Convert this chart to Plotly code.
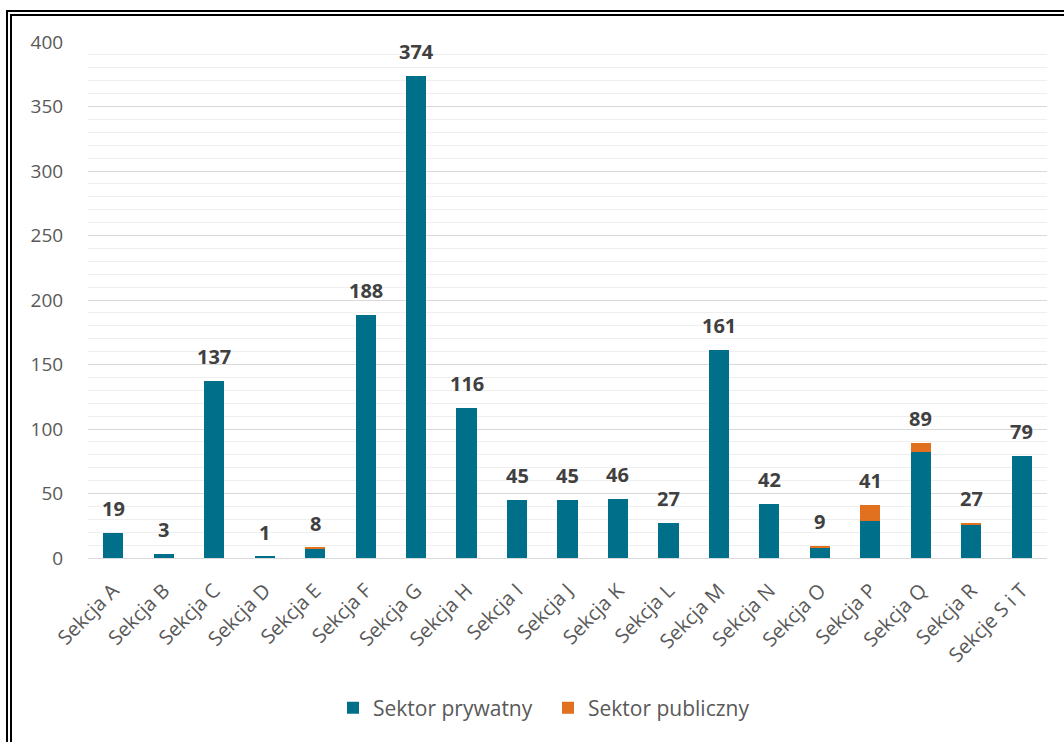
import plotly.graph_objects as go

categories = ["Sekcja A", "Sekcja B", "Sekcja C", "Sekcja D", "Sekcja E", "Sekcja F",
              "Sekcja G", "Sekcja H", "Sekcja I", "Sekcja J", "Sekcja K", "Sekcja L",
              "Sekcja M", "Sekcja N", "Sekcja O", "Sekcja P", "Sekcja Q", "Sekcja R",
              "Sekcje S i T"]
private = [19, 3, 137, 1, 7, 188, 374, 116, 45, 45, 46, 27, 161, 42, 8, 29, 82, 26, 79]
public = [0, 0, 0, 0, 1, 0, 0, 0, 0, 0, 0, 0, 0, 0, 1, 12, 7, 1, 0]
totals = [19, 3, 137, 1, 8, 188, 374, 116, 45, 45, 46, 27, 161, 42, 9, 41, 89, 27, 79]

BLUE = "#00708A"
ORANGE = "#E1711E"
FONT = "Open Sans"

fig = go.Figure()
fig.add_trace(go.Bar(x=categories, y=private, name="Sektor prywatny",
                     marker=dict(color=BLUE, line=dict(width=0))))
fig.add_trace(go.Bar(x=categories, y=public, name="Sektor publiczny",
                     marker=dict(color=ORANGE, line=dict(width=0))))

annotations = []
for c, v in zip(categories, totals):
    annotations.append(dict(x=c, y=v, xref="x", yref="y", text=str(v), showarrow=False,
                            yanchor="bottom", yshift=9,
                            font=dict(family=FONT, size=20, color="#404040", weight="bold")))

L, R, T, B = 88, 17, 42, 184
W, H = 1064, 742
pw = W - L - R
ph = H - T - B

def px(x):
    return (x - L) / pw

def py(y):
    return 1 - (y - T) / ph

shapes = [
    dict(type="line", xref="paper", yref="paper", x0=px(7), x1=px(7), y0=py(10), y1=py(745),
         line=dict(color="black", width=2)),
    dict(type="line", xref="paper", yref="paper", x0=px(11), x1=px(11), y0=py(14), y1=py(745),
         line=dict(color="black", width=2)),
    dict(type="line", xref="paper", yref="paper", x0=px(6), x1=px(1070), y0=py(11), y1=py(11),
         line=dict(color="black", width=2)),
    dict(type="line", xref="paper", yref="paper", x0=px(10), x1=px(1070), y0=py(15), y1=py(15),
         line=dict(color="black", width=2)),
]

fig.update_layout(
    width=W, height=H,
    margin=dict(l=L, r=R, t=T, b=B, autoexpand=False),
    paper_bgcolor="white", plot_bgcolor="white",
    barmode="stack", bargap=0.6,
    font=dict(family=FONT, color="#595959"),
    showlegend=True,
    legend=dict(orientation="h", x=px(333), xanchor="left", y=py(708), yanchor="middle",
                font=dict(size=21, color="#595959"), itemwidth=30, traceorder="normal",
                entrywidth=170, entrywidthmode="pixels"),
    shapes=shapes,
    annotations=annotations,
    xaxis=dict(tickangle=-45, tickfont=dict(size=20, color="#595959"), automargin=False,
               showline=True, linecolor="#d9d9d9", linewidth=1,
               ticks="outside", ticklen=12, tickcolor="rgba(0,0,0,0)"),
    yaxis=dict(range=[0, 400], dtick=50, tickfont=dict(size=19, color="#595959"),
               automargin=False,
               showgrid=True, gridcolor="#d9d9d9", gridwidth=1, zeroline=False,
               ticks="outside", ticklen=20, tickcolor="rgba(0,0,0,0)",
               minor=dict(dtick=10, showgrid=True, gridcolor="#efefef", gridwidth=1)),
)

fig.write_html("out.html", config={"displayModeBar": False},
               post_script="document.body.style.margin='0';document.body.style.overflow='hidden';")
